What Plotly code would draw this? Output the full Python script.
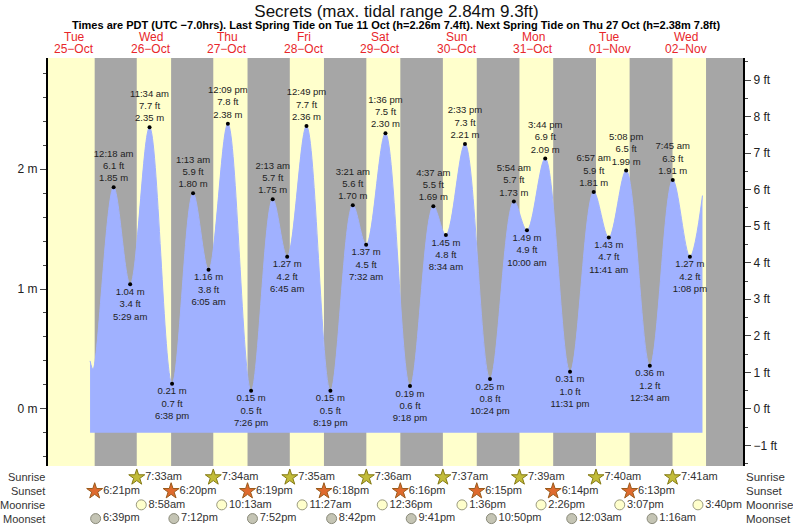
import plotly.graph_objects as go
from datetime import datetime

# tide extremes: time, height (m), high/low
tide_times = ["2022-10-25 16:54", "2022-10-25 17:50",
              "2022-10-26 00:18", "2022-10-26 05:29", "2022-10-26 11:34", "2022-10-26 18:38",
              "2022-10-27 01:13", "2022-10-27 06:05", "2022-10-27 12:09", "2022-10-27 19:26",
              "2022-10-28 02:13", "2022-10-28 06:45", "2022-10-28 12:49", "2022-10-28 20:19",
              "2022-10-29 03:21", "2022-10-29 07:32", "2022-10-29 13:36", "2022-10-29 21:18",
              "2022-10-30 04:37", "2022-10-30 08:34", "2022-10-30 14:33", "2022-10-30 22:24",
              "2022-10-31 05:54", "2022-10-31 10:00", "2022-10-31 15:44", "2022-10-31 23:31",
              "2022-11-01 06:57", "2022-11-01 11:41", "2022-11-01 17:08", "2022-11-02 00:34",
              "2022-11-02 07:45", "2022-11-02 13:08", "2022-11-02 17:05"]
tide_m = [0.40, 0.33,
          1.85, 1.04, 2.35, 0.21,
          1.80, 1.16, 2.38, 0.15,
          1.75, 1.27, 2.36, 0.15,
          1.70, 1.37, 2.30, 0.19,
          1.69, 1.45, 2.21, 0.25,
          1.73, 1.49, 2.09, 0.31,
          1.81, 1.43, 1.99, 0.36,
          1.91, 1.27, 1.78]
# which points are labelled: 1 high, -1 low, 0 none
tide_kind = [0, 0] + [1, -1, 1, -1] * 7 + [1, -1, 0]

day_noons = ["2022-10-25 12:00", "2022-10-26 12:00", "2022-10-27 12:00", "2022-10-28 12:00",
             "2022-10-29 12:00", "2022-10-30 12:00", "2022-10-31 12:00", "2022-11-01 12:00",
             "2022-11-02 12:00"]
day_names = ["Tue", "Wed", "Thu", "Fri", "Sat", "Sun", "Mon", "Tue", "Wed"]
day_dates = ["25\u2212Oct", "26\u2212Oct", "27\u2212Oct", "28\u2212Oct", "29\u2212Oct",
             "30\u2212Oct", "31\u2212Oct", "01\u2212Nov", "02\u2212Nov"]

sunrise = ["2022-10-26 07:33", "2022-10-27 07:34", "2022-10-28 07:35", "2022-10-29 07:36",
           "2022-10-30 07:37", "2022-10-31 07:39", "2022-11-01 07:40", "2022-11-02 07:41"]
sunset = ["2022-10-25 18:21", "2022-10-26 18:20", "2022-10-27 18:19", "2022-10-28 18:18",
          "2022-10-29 18:16", "2022-10-30 18:15", "2022-10-31 18:14", "2022-11-01 18:13"]
moonrise = ["2022-10-26 08:58", "2022-10-27 10:13", "2022-10-28 11:27", "2022-10-29 12:36",
            "2022-10-30 13:36", "2022-10-31 14:26", "2022-11-01 15:07", "2022-11-02 15:40"]
moonset = ["2022-10-25 18:39", "2022-10-26 19:12", "2022-10-27 19:52", "2022-10-28 20:42",
           "2022-10-29 21:41", "2022-10-30 22:50", "2022-11-01 00:03", "2022-11-02 01:16"]
last_sunset = "2022-11-02 18:12"

x_start, x_end = "2022-10-25 03:42", "2022-11-03 05:48"
M2FT = 0.3048
ymin, ymax = -0.477, 2.928
PW, PH = 695, 465  # plot area in px


def fmt(t):
    d = datetime.strptime(t, "%Y-%m-%d %H:%M")
    h = d.hour % 12 or 12
    return f"{h}:{d.minute:02d}{'am' if d.hour < 12 else 'pm'}"


fig = go.Figure()

# day background + night shading
fig.add_shape(type="rect", x0=0, x1=1, y0=0, y1=1, xref="x domain", yref="y domain",
              fillcolor="#ffffcc", line_width=0, layer="below")
nights = [(s, r) for s, r in zip(sunset, sunrise)] + [(last_sunset, x_end)]
for s, r in nights:
    fig.add_shape(type="rect", x0=s, x1=r, y0=0, y1=1, xref="x", yref="y domain",
                  fillcolor="#a6a6a6", line_width=0, layer="below")

fig.add_trace(go.Scatter(x=[tide_times[0], tide_times[-1]], y=[-0.2, -0.2], mode="lines",
                         line=dict(width=0), hoverinfo="skip", showlegend=False))
fig.add_trace(go.Scatter(x=tide_times, y=tide_m, mode="lines", fill="tonexty",
                         fillcolor="#a0b1ff", line=dict(color="#a0b1ff", width=1, shape="spline", smoothing=1.0),
                         showlegend=False))

for kind, pos in [(1, "top center"), (-1, "bottom center")]:
    xs = [t for t, k in zip(tide_times, tide_kind) if k == kind]
    ys = [m for m, k in zip(tide_m, tide_kind) if k == kind]
    if kind == 1:
        txt = [f"{fmt(t).replace('am', ' am').replace('pm', ' pm')}<br>{m / M2FT:.1f} ft<br>{m:.2f} m"
               for t, m in zip(xs, ys)]
    else:
        txt = [f"{m:.2f} m<br>{m / M2FT:.1f} ft<br>{fmt(t).replace('am', ' am').replace('pm', ' pm')}"
               for t, m in zip(xs, ys)]
    fig.add_trace(go.Scatter(x=xs, y=ys, mode="markers+text", text=txt, textposition=pos,
                             marker=dict(color="black", size=4),
                             textfont=dict(size=9.5, color="#222"), showlegend=False))

# sun / moon rows
rows = [(sunrise, 3, "star", "#c2bc3a", "#857a14", 12),
        (sunset, 2, "star", "#df6a2e", "#9a5a1a", 12),
        (moonrise, 1, "circle", "#ffffcc", "#9a9a80", 10),
        (moonset, 0, "circle", "#c4c4b4", "#8a8a7a", 10)]
for times, row, sym, fc, lc, sz in rows:
    fig.add_trace(go.Scatter(x=times, y=[row] * len(times), yaxis="y3", mode="markers+text",
                             text=[fmt(t) for t in times], textposition="middle right",
                             marker=dict(symbol=sym, color=fc, size=sz, line=dict(color=lc, width=1)),
                             textfont=dict(size=11, color="#333"), cliponaxis=False, showlegend=False))

for name, row in [("Sunrise", 3), ("Sunset", 2), ("Moonrise", 1), ("Moonset", 0)]:
    fig.add_annotation(x=(46 - 48) / PW, y=row, xref="paper", yref="y3", text=name, showarrow=False,
                       xanchor="right", borderpad=0, font=dict(size=11, color="#333"))
    fig.add_annotation(x=(745 - 48) / PW, y=row, xref="paper", yref="y3", text=name, showarrow=False,
                       xanchor="left", borderpad=0, font=dict(size=11.5, color="#333"))

for t, nm, dt in zip(day_noons, day_names, day_dates):
    fig.add_annotation(x=t, y=1 + (58 - 37) / PH, xref="x", yref="paper", text=nm, showarrow=False,
                       yanchor="middle", borderpad=0, font=dict(size=12, color="#e8262a"))
    fig.add_annotation(x=t, y=1 + (58 - 49) / PH, xref="x", yref="paper", text=dt, showarrow=False,
                       yanchor="middle", borderpad=0, font=dict(size=12, color="#e8262a"))

fig.add_annotation(x=(396 - 48) / PW, y=1 + (58 - 25) / PH, xref="paper", yref="paper", yanchor="middle",
                   text="<b>Times are PDT (UTC \u22127.0hrs). Last Spring Tide on Tue 11 Oct (h=2.26m 7.4ft). "
                        "Next Spring Tide on Thu 27 Oct (h=2.38m 7.8ft)</b>",
                   showarrow=False, borderpad=0, font=dict(size=11, color="black"))

dom0 = (523 - 466) / PH
fig.update_layout(
    width=793, height=525, margin=dict(l=48, r=50, t=58, b=2, autoexpand=False),
    paper_bgcolor="white", plot_bgcolor="white",
    font=dict(family="Liberation Sans, Arial, sans-serif"),
    title=dict(text="Secrets (max. tidal range 2.84m 9.3ft)", x=0.5, y=1 - 11 / 525,
               yanchor="middle", font=dict(size=17, color="#111")),
    xaxis=dict(type="date", range=[x_start, x_end], showticklabels=False, ticks="",
               showgrid=False, zeroline=False, anchor="y", automargin=False),
    yaxis=dict(domain=[dom0, 1], range=[ymin, ymax], tickvals=[0, 1, 2],
               ticktext=["0 m", "1 m", "2 m"], ticks="outside", ticklen=6,
               minor=dict(dtick=0.2, tick0=0, ticks="outside", ticklen=3),
               showgrid=False, zeroline=False, showline=True, linecolor="black", linewidth=2,
               tickfont=dict(size=12, color="#222"), automargin=False),
    yaxis2=dict(overlaying="y", side="right", range=[ymin / M2FT, ymax / M2FT],
                tickvals=list(range(-1, 10)), ticktext=[f"{v} ft" if v >= 0 else f"\u22121 ft" for v in range(-1, 10)],
                ticks="outside", ticklen=6,
                minor=dict(dtick=0.5, tick0=0, ticks="outside", ticklen=3),
                showgrid=False, zeroline=False, showline=True, linecolor="black", linewidth=2,
                tickfont=dict(size=12, color="#222"), anchor="x", automargin=False),
    yaxis3=dict(domain=[0, dom0 - 0.002], range=[-0.32, 3.76], visible=False, fixedrange=True),
)
fig.add_trace(go.Scatter(x=[x_start], y=[0], yaxis="y2", mode="markers", marker=dict(opacity=0),
                         hoverinfo="skip", showlegend=False))

fig.write_html("out.html", post_script="document.body.style.margin='0';",
               config={"displayModeBar": False})
